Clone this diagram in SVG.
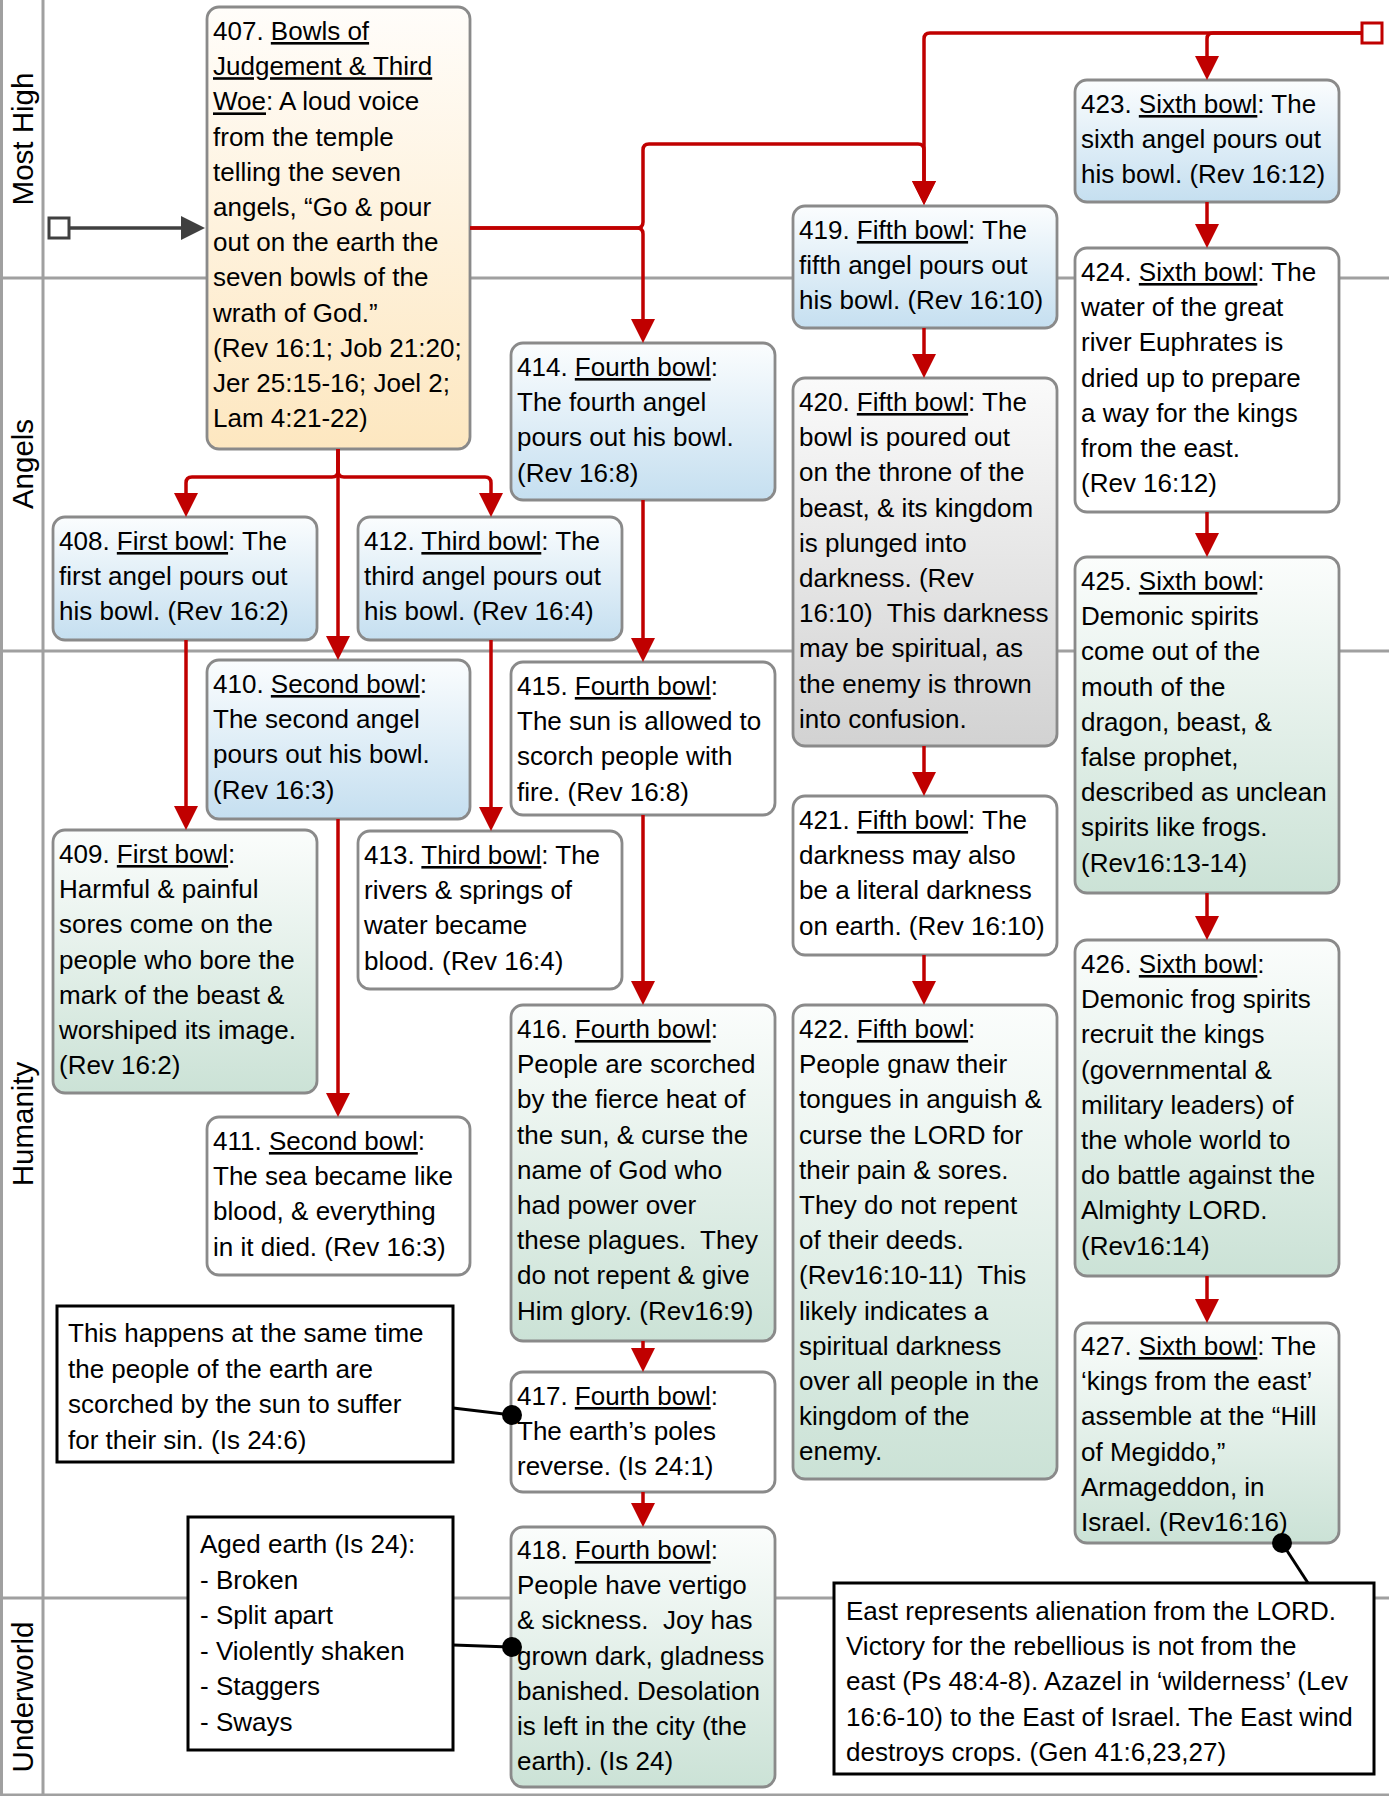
<svg xmlns="http://www.w3.org/2000/svg" width="1389" height="1796" viewBox="0 0 1389 1796">
<defs>
<linearGradient id="gBlue" x1="0" y1="0" x2="0" y2="1"><stop offset="0" stop-color="#fbfdfe"/><stop offset="1" stop-color="#c5dff0"/></linearGradient>
<linearGradient id="gGreen" x1="0" y1="0" x2="0" y2="1"><stop offset="0" stop-color="#fbfdfc"/><stop offset="1" stop-color="#cbe2d6"/></linearGradient>
<linearGradient id="gOrange" x1="0" y1="0" x2="0" y2="1"><stop offset="0" stop-color="#fffdfa"/><stop offset="1" stop-color="#fde7c0"/></linearGradient>
<linearGradient id="gGray" x1="0" y1="0" x2="0" y2="1"><stop offset="0" stop-color="#fafafa"/><stop offset="1" stop-color="#d2d2d2"/></linearGradient>
<marker id="arR" viewBox="0 0 24 24" markerWidth="24" markerHeight="24" refX="20" refY="12" orient="auto" markerUnits="userSpaceOnUse"><path d="M0,0 L24,12 L0,24 Z" fill="#c00000"/></marker>
<marker id="arK" viewBox="0 0 24 24" markerWidth="24" markerHeight="24" refX="20" refY="12" orient="auto" markerUnits="userSpaceOnUse"><path d="M0,0 L24,12 L0,24 Z" fill="#404040"/></marker>
<style>
.lane{stroke:#a0a0a0;stroke-width:3;fill:none}
.box{stroke:#8a8a8a;stroke-width:2.8}
.t{font-family:"Liberation Sans",Arial,sans-serif;font-size:26px;fill:#000}
.lbl{font-family:"Liberation Sans",Arial,sans-serif;font-size:29.5px;fill:#000;text-anchor:middle}
.u{text-decoration:underline}
.red{stroke:#c00000;stroke-width:3.5;fill:none;marker-end:url(#arR)}
.note{fill:#fff;stroke:#000;stroke-width:3}
.blk{stroke:#000;stroke-width:3;fill:none}
.dot{fill:#000}
</style>
</defs>
<rect width="1389" height="1796" fill="#fff"/>
<g id="lanes">
<path class="lane" d="M1.5,0 V1796 M43,0 V1796 M0,278 H1389 M0,651 H1389 M0,1598 H1389 M0,1795 H1389"/>
<text class="lbl" transform="translate(33,139) rotate(-90)">Most High</text>
<text class="lbl" transform="translate(33,464) rotate(-90)">Angels</text>
<text class="lbl" transform="translate(33,1124) rotate(-90)">Humanity</text>
<text class="lbl" transform="translate(33,1697) rotate(-90)">Underworld</text>
</g>
<g id="nodes">
<g id="n407"><rect class="box" x="207" y="7" width="263" height="442" rx="12" fill="url(#gOrange)"/>
<text class="t" x="213" y="40">407. <tspan class="u">Bowls of</tspan><tspan x="213" dy="35.2" class="u">Judgement &amp; Third</tspan><tspan x="213" dy="35.2"><tspan class="u">Woe</tspan>: A loud voice</tspan><tspan x="213" dy="35.2">from the temple</tspan><tspan x="213" dy="35.2">telling the seven</tspan><tspan x="213" dy="35.2">angels, “Go &amp; pour</tspan><tspan x="213" dy="35.2">out on the earth the</tspan><tspan x="213" dy="35.2">seven bowls of the</tspan><tspan x="213" dy="35.2">wrath of God.”</tspan><tspan x="213" dy="35.2">(Rev 16:1; Job 21:20;</tspan><tspan x="213" dy="35.2">Jer 25:15-16; Joel 2;</tspan><tspan x="213" dy="35.2">Lam 4:21-22)</tspan></text></g>
<g id="n408"><rect class="box" x="53" y="517" width="264" height="123" rx="12" fill="url(#gBlue)"/>
<text class="t" x="59" y="550">408. <tspan class="u">First bowl</tspan>: The<tspan x="59" dy="35.2">first angel pours out</tspan><tspan x="59" dy="35.2">his bowl. (Rev 16:2)</tspan></text></g>
<g id="n409"><rect class="box" x="53" y="830" width="264" height="263" rx="12" fill="url(#gGreen)"/>
<text class="t" x="59" y="863">409. <tspan class="u">First bowl</tspan>:<tspan x="59" dy="35.2">Harmful &amp; painful</tspan><tspan x="59" dy="35.2">sores come on the</tspan><tspan x="59" dy="35.2">people who bore the</tspan><tspan x="59" dy="35.2">mark of the beast &amp;</tspan><tspan x="59" dy="35.2">worshiped its image.</tspan><tspan x="59" dy="35.2">(Rev 16:2)</tspan></text></g>
<g id="n410"><rect class="box" x="207" y="660" width="263" height="159" rx="12" fill="url(#gBlue)"/>
<text class="t" x="213" y="693">410. <tspan class="u">Second bowl</tspan>:<tspan x="213" dy="35.2">The second angel</tspan><tspan x="213" dy="35.2">pours out his bowl.</tspan><tspan x="213" dy="35.2">(Rev 16:3)</tspan></text></g>
<g id="n411"><rect class="box" x="207" y="1117" width="263" height="158" rx="12" fill="#fff"/>
<text class="t" x="213" y="1150">411. <tspan class="u">Second bowl</tspan>:<tspan x="213" dy="35.2">The sea became like</tspan><tspan x="213" dy="35.2">blood, &amp; everything</tspan><tspan x="213" dy="35.2">in it died. (Rev 16:3)</tspan></text></g>
<g id="n412"><rect class="box" x="358" y="517" width="264" height="123" rx="12" fill="url(#gBlue)"/>
<text class="t" x="364" y="550">412. <tspan class="u">Third bowl</tspan>: The<tspan x="364" dy="35.2">third angel pours out</tspan><tspan x="364" dy="35.2">his bowl. (Rev 16:4)</tspan></text></g>
<g id="n413"><rect class="box" x="358" y="831" width="264" height="158" rx="12" fill="#fff"/>
<text class="t" x="364" y="864">413. <tspan class="u">Third bowl</tspan>: The<tspan x="364" dy="35.2">rivers &amp; springs of</tspan><tspan x="364" dy="35.2">water became</tspan><tspan x="364" dy="35.2">blood. (Rev 16:4)</tspan></text></g>
<g id="n414"><rect class="box" x="511" y="343" width="264" height="157" rx="12" fill="url(#gBlue)"/>
<text class="t" x="517" y="376">414. <tspan class="u">Fourth bowl</tspan>:<tspan x="517" dy="35.2">The fourth angel</tspan><tspan x="517" dy="35.2">pours out his bowl.</tspan><tspan x="517" dy="35.2">(Rev 16:8)</tspan></text></g>
<g id="n415"><rect class="box" x="511" y="662" width="264" height="153" rx="12" fill="#fff"/>
<text class="t" x="517" y="695">415. <tspan class="u">Fourth bowl</tspan>:<tspan x="517" dy="35.2">The sun is allowed to</tspan><tspan x="517" dy="35.2">scorch people with</tspan><tspan x="517" dy="35.2">fire. (Rev 16:8)</tspan></text></g>
<g id="n416"><rect class="box" x="511" y="1005" width="264" height="336" rx="12" fill="url(#gGreen)"/>
<text class="t" x="517" y="1038">416. <tspan class="u">Fourth bowl</tspan>:<tspan x="517" dy="35.2">People are scorched</tspan><tspan x="517" dy="35.2">by the fierce heat of</tspan><tspan x="517" dy="35.2">the sun, &amp; curse the</tspan><tspan x="517" dy="35.2">name of God who</tspan><tspan x="517" dy="35.2">had power over</tspan><tspan x="517" dy="35.2" xml:space="preserve">these plagues.  They</tspan><tspan x="517" dy="35.2">do not repent &amp; give</tspan><tspan x="517" dy="35.2">Him glory. (Rev16:9)</tspan></text></g>
<g id="n417"><rect class="box" x="511" y="1372" width="264" height="120" rx="12" fill="#fff"/>
<text class="t" x="517" y="1405">417. <tspan class="u">Fourth bowl</tspan>:<tspan x="517" dy="35.2">The earth’s poles</tspan><tspan x="517" dy="35.2">reverse. (Is 24:1)</tspan></text></g>
<g id="n418"><rect class="box" x="511" y="1527" width="264" height="260" rx="12" fill="url(#gGreen)"/>
<text class="t" x="517" y="1559">418. <tspan class="u">Fourth bowl</tspan>:<tspan x="517" dy="35.2">People have vertigo</tspan><tspan x="517" dy="35.2" xml:space="preserve">&amp; sickness.  Joy has</tspan><tspan x="517" dy="35.2">grown dark, gladness</tspan><tspan x="517" dy="35.2">banished. Desolation</tspan><tspan x="517" dy="35.2">is left in the city (the</tspan><tspan x="517" dy="35.2">earth). (Is 24)</tspan></text></g>
<g id="n419"><rect class="box" x="793" y="206" width="264" height="122" rx="12" fill="url(#gBlue)"/>
<text class="t" x="799" y="239">419. <tspan class="u">Fifth bowl</tspan>: The<tspan x="799" dy="35.2">fifth angel pours out</tspan><tspan x="799" dy="35.2">his bowl. (Rev 16:10)</tspan></text></g>
<g id="n420"><rect class="box" x="793" y="378" width="264" height="368" rx="12" fill="url(#gGray)"/>
<text class="t" x="799" y="411">420. <tspan class="u">Fifth bowl</tspan>: The<tspan x="799" dy="35.2">bowl is poured out</tspan><tspan x="799" dy="35.2">on the throne of the</tspan><tspan x="799" dy="35.2">beast, &amp; its kingdom</tspan><tspan x="799" dy="35.2">is plunged into</tspan><tspan x="799" dy="35.2">darkness. (Rev</tspan><tspan x="799" dy="35.2" xml:space="preserve">16:10)  This darkness</tspan><tspan x="799" dy="35.2">may be spiritual, as</tspan><tspan x="799" dy="35.2">the enemy is thrown</tspan><tspan x="799" dy="35.2">into confusion.</tspan></text></g>
<g id="n421"><rect class="box" x="793" y="796" width="264" height="159" rx="12" fill="#fff"/>
<text class="t" x="799" y="829">421. <tspan class="u">Fifth bowl</tspan>: The<tspan x="799" dy="35.2">darkness may also</tspan><tspan x="799" dy="35.2">be a literal darkness</tspan><tspan x="799" dy="35.2">on earth. (Rev 16:10)</tspan></text></g>
<g id="n422"><rect class="box" x="793" y="1005" width="264" height="474" rx="12" fill="url(#gGreen)"/>
<text class="t" x="799" y="1038">422. <tspan class="u">Fifth bowl</tspan>:<tspan x="799" dy="35.2">People gnaw their</tspan><tspan x="799" dy="35.2">tongues in anguish &amp;</tspan><tspan x="799" dy="35.2">curse the LORD for</tspan><tspan x="799" dy="35.2">their pain &amp; sores.</tspan><tspan x="799" dy="35.2">They do not repent</tspan><tspan x="799" dy="35.2">of their deeds.</tspan><tspan x="799" dy="35.2" xml:space="preserve">(Rev16:10-11)  This</tspan><tspan x="799" dy="35.2">likely indicates a</tspan><tspan x="799" dy="35.2">spiritual darkness</tspan><tspan x="799" dy="35.2">over all people in the</tspan><tspan x="799" dy="35.2">kingdom of the</tspan><tspan x="799" dy="35.2">enemy.</tspan></text></g>
<g id="n423"><rect class="box" x="1075" y="80" width="264" height="122" rx="12" fill="url(#gBlue)"/>
<text class="t" x="1081" y="113">423. <tspan class="u">Sixth bowl</tspan>: The<tspan x="1081" dy="35.2">sixth angel pours out</tspan><tspan x="1081" dy="35.2">his bowl. (Rev 16:12)</tspan></text></g>
<g id="n424"><rect class="box" x="1075" y="248" width="264" height="264" rx="12" fill="#fff"/>
<text class="t" x="1081" y="281">424. <tspan class="u">Sixth bowl</tspan>: The<tspan x="1081" dy="35.2">water of the great</tspan><tspan x="1081" dy="35.2">river Euphrates is</tspan><tspan x="1081" dy="35.2">dried up to prepare</tspan><tspan x="1081" dy="35.2">a way for the kings</tspan><tspan x="1081" dy="35.2">from the east.</tspan><tspan x="1081" dy="35.2">(Rev 16:12)</tspan></text></g>
<g id="n425"><rect class="box" x="1075" y="557" width="264" height="336" rx="12" fill="url(#gGreen)"/>
<text class="t" x="1081" y="590">425. <tspan class="u">Sixth bowl</tspan>:<tspan x="1081" dy="35.2">Demonic spirits</tspan><tspan x="1081" dy="35.2">come out of the</tspan><tspan x="1081" dy="35.2">mouth of the</tspan><tspan x="1081" dy="35.2">dragon, beast, &amp;</tspan><tspan x="1081" dy="35.2">false prophet,</tspan><tspan x="1081" dy="35.2">described as unclean</tspan><tspan x="1081" dy="35.2">spirits like frogs.</tspan><tspan x="1081" dy="35.2">(Rev16:13-14)</tspan></text></g>
<g id="n426"><rect class="box" x="1075" y="940" width="264" height="336" rx="12" fill="url(#gGreen)"/>
<text class="t" x="1081" y="973">426. <tspan class="u">Sixth bowl</tspan>:<tspan x="1081" dy="35.2">Demonic frog spirits</tspan><tspan x="1081" dy="35.2">recruit the kings</tspan><tspan x="1081" dy="35.2">(governmental &amp;</tspan><tspan x="1081" dy="35.2">military leaders) of</tspan><tspan x="1081" dy="35.2">the whole world to</tspan><tspan x="1081" dy="35.2">do battle against the</tspan><tspan x="1081" dy="35.2">Almighty LORD.</tspan><tspan x="1081" dy="35.2">(Rev16:14)</tspan></text></g>
<g id="n427"><rect class="box" x="1075" y="1323" width="264" height="220" rx="12" fill="url(#gGreen)"/>
<text class="t" x="1081" y="1355">427. <tspan class="u">Sixth bowl</tspan>: The<tspan x="1081" dy="35.2">‘kings from the east’</tspan><tspan x="1081" dy="35.2">assemble at the “Hill</tspan><tspan x="1081" dy="35.2">of Megiddo,”</tspan><tspan x="1081" dy="35.2">Armageddon, in</tspan><tspan x="1081" dy="35.2">Israel. (Rev16:16)</tspan></text></g>
<g id="note1"><rect class="note" x="57" y="1306" width="396" height="156"/>
<text class="t" x="68" y="1342">This happens at the same time<tspan x="68" dy="35.5">the people of the earth are</tspan><tspan x="68" dy="35.5">scorched by the sun to suffer</tspan><tspan x="68" dy="35.5">for their sin. (Is 24:6)</tspan></text></g>
<g id="note2"><rect class="note" x="188" y="1517" width="265" height="233"/>
<text class="t" x="200" y="1553">Aged earth (Is 24):<tspan x="200" dy="35.5">- Broken</tspan><tspan x="200" dy="35.5">- Split apart</tspan><tspan x="200" dy="35.5">- Violently shaken</tspan><tspan x="200" dy="35.5">- Staggers</tspan><tspan x="200" dy="35.5">- Sways</tspan></text></g>
<g id="note3"><rect class="note" x="834" y="1583" width="540" height="191"/>
<text class="t" x="846" y="1620">East represents alienation from the LORD.<tspan x="846" dy="35.2">Victory for the rebellious is not from the</tspan><tspan x="846" dy="35.2">east (Ps 48:4-8). Azazel in ‘wilderness’ (Lev</tspan><tspan x="846" dy="35.2">16:6-10) to the East of Israel. The East wind</tspan><tspan x="846" dy="35.2">destroys crops. (Gen 41:6,23,27)</tspan></text></g>
</g>
<g id="connectors">
<rect x="49" y="218" width="20" height="20" fill="#fff" stroke="#404040" stroke-width="3"/>
<path d="M69,228 H201" stroke="#404040" stroke-width="3.5" fill="none" marker-end="url(#arK)"/>
<path class="red" d="M470,228 H637 Q643,228 643,222 V150 Q643,144 649,144 H918 Q924,144 924,150 V201"/>
<path class="red" d="M470,228 H637 Q643,228 643,234 V339"/>
<path class="red" d="M1362,33 H930 Q924,33 924,39 V201"/>
<path class="red" d="M1362,33 H1213 Q1207,33 1207,39 V76"/>
<rect x="1362" y="23" width="20" height="20" fill="#fff" stroke="#c00000" stroke-width="3"/>
<path class="red" d="M338,449 V656"/>
<path class="red" d="M338,449 V471 Q338,477 332,477 H192 Q186,477 186,483 V513"/>
<path class="red" d="M338,449 V471 Q338,477 344,477 H485 Q491,477 491,483 V513"/>
<path class="red" d="M186,640 V826"/>
<path class="red" d="M338,819 V1113"/>
<path class="red" d="M491,640 V827"/>
<path class="red" d="M643,500 V658"/>
<path class="red" d="M643,815 V1001"/>
<path class="red" d="M643,1341 V1368"/>
<path class="red" d="M643,1492 V1523"/>
<path class="red" d="M924,328 V374"/>
<path class="red" d="M924,746 V792"/>
<path class="red" d="M924,955 V1001"/>
<path class="red" d="M1207,202 V244"/>
<path class="red" d="M1207,512 V553"/>
<path class="red" d="M1207,893 V936"/>
<path class="red" d="M1207,1276 V1319"/>
<path class="blk" d="M453,1408 L512,1415"/>
<circle class="dot" cx="512" cy="1415" r="10"/>
<path class="blk" d="M453,1645 L512,1647"/>
<circle class="dot" cx="512" cy="1647" r="10"/>
<path class="blk" d="M1308,1583 L1282,1543"/>
<circle class="dot" cx="1282" cy="1543" r="10"/>
</g>
</svg>
